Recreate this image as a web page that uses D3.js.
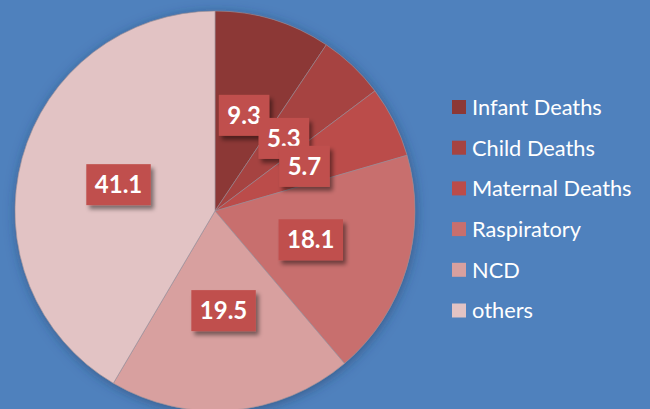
<!DOCTYPE html>
<html>
<head>
<meta charset="utf-8">
<script src="https://cdn.jsdelivr.net/npm/d3@7"></script>
<style>
  html, body { margin: 0; padding: 0; background: #4f81bd; }
  svg { display: block; }
</style>
</head>
<body>
<svg width="650" height="409"></svg>
<script>
const categories = ['Infant Deaths', 'Child Deaths', 'Maternal Deaths', 'Raspiratory', 'NCD', 'others'];
const values = [9.3, 5.3, 5.7, 18.1, 19.5, 41.1];
const colors = ['#8c3836', '#a64341', '#bb4c4a', '#c86f6e', '#d8a09f', '#e2c3c4'];

const svg = d3.select('svg');
const width = 650, height = 409;
const cx = 215, cy = 211, radius = 200;

svg.append('rect').attr('width', width).attr('height', height).attr('fill', '#4f81bd');

const defs = svg.append('defs');
// soft shadow around the pie
const pieShadow = defs.append('filter').attr('id', 'pieShadow')
  .attr('x', '-20%').attr('y', '-20%').attr('width', '140%').attr('height', '140%');
pieShadow.append('feDropShadow')
  .attr('dx', 1).attr('dy', 2).attr('stdDeviation', 6)
  .attr('flood-color', '#1f3a60').attr('flood-opacity', 0.55);

// shadow for the value boxes
const boxShadow = defs.append('filter').attr('id', 'boxShadow')
  .attr('x', '-30%').attr('y', '-30%').attr('width', '160%').attr('height', '160%');
boxShadow.append('feDropShadow')
  .attr('dx', 3).attr('dy', 4).attr('stdDeviation', 2.2)
  .attr('flood-color', '#000').attr('flood-opacity', 0.45);

const color = d3.scaleOrdinal().domain(categories).range(colors);

const pie = d3.pie().sort(null).value(d => d.value);
const data = pie(categories.map((c, i) => ({ name: c, value: values[i] })));

const arc = d3.arc().innerRadius(0).outerRadius(radius);

const g = svg.append('g').attr('transform', `translate(${cx},${cy})`);

g.append('circle').attr('r', radius).attr('fill', '#7a8aa0').attr('filter', 'url(#pieShadow)');

g.selectAll('path.slice')
  .data(data)
  .enter().append('path')
  .attr('class', 'slice')
  .attr('d', arc)
  .attr('fill', d => color(d.data.name))
  .attr('stroke', '#9a8e98')
  .attr('stroke-width', 0.6);

// value labels in boxes at the slice centroids
const labels = g.selectAll('g.lbl')
  .data(data)
  .enter().append('g')
  .attr('class', 'lbl')
  .attr('transform', d => `translate(${arc.centroid(d)})`);

labels.each(function (d) {
  const lg = d3.select(this);
  const rect = lg.append('rect').attr('fill', '#c0504d').attr('filter', 'url(#boxShadow)');
  const txt = lg.append('text')
    .attr('text-anchor', 'middle')
    .attr('dy', '0.35em')
    .attr('fill', '#ffffff')
    .style('font-family', 'Lato, "Open Sans", sans-serif')
    .style('font-weight', 'bold')
    .style('font-size', '24px')
    .text(d3.format('.1f')(d.data.value));
  const w = txt.node().getComputedTextLength() + 17;
  const h = 41;
  rect.attr('x', -w / 2).attr('y', -h / 2).attr('width', w).attr('height', h);
});

// legend
const legend = svg.append('g').attr('transform', 'translate(452,107)');
const rows = legend.selectAll('g')
  .data(categories)
  .enter().append('g')
  .attr('transform', (d, i) => `translate(0,${i * 40.7})`);

rows.append('rect')
  .attr('x', 0).attr('y', -7).attr('width', 14).attr('height', 14)
  .attr('fill', d => color(d));

rows.append('text')
  .attr('x', 20).attr('y', 0).attr('dy', '0.36em')
  .attr('fill', '#ffffff')
  .style('font-family', 'Lato, "Open Sans", sans-serif')
  .style('font-size', '21.8px')
  .text(d => d);
</script>
</body>
</html>
